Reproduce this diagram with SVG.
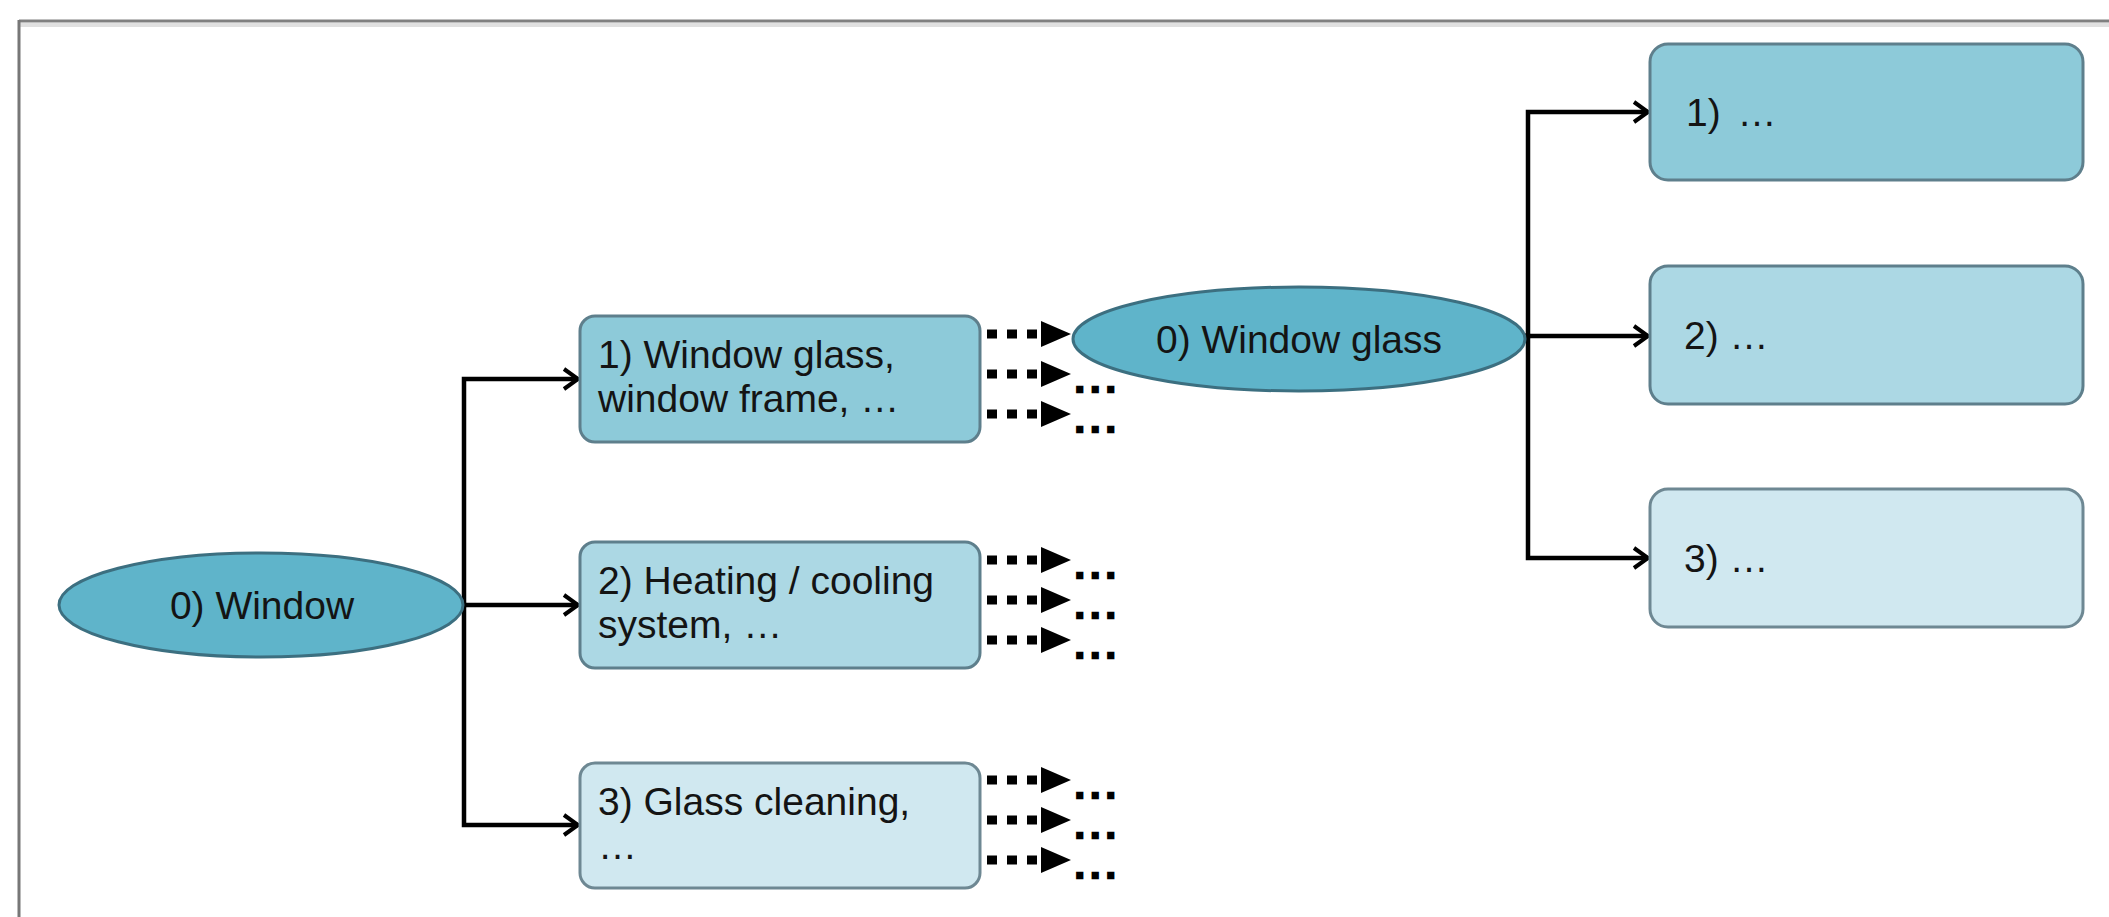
<svg xmlns="http://www.w3.org/2000/svg" width="2109" height="917" viewBox="0 0 2109 917">
<style>
.t{font-family:"Liberation Sans",Arial,sans-serif;font-size:39px;fill:#141414}
.c{text-anchor:middle}
.dl{font-family:"Liberation Sans",Arial,sans-serif;font-size:34px;font-weight:bold;letter-spacing:6px;fill:#000;stroke:#000;stroke-width:2.5px}
.ell{fill:#5fb4ca;stroke:#3c6f80;stroke-width:3}
.b1{fill:#8dcad9;stroke:#5e7f8c;stroke-width:3}
.b2{fill:#acd8e4;stroke:#5e7f8c;stroke-width:3}
.b3{fill:#d0e8f0;stroke:#6e8893;stroke-width:3}
.sol{fill:none;stroke:#000;stroke-width:4.5;marker-end:url(#open)}
.dot{fill:none;stroke:#000;stroke-width:9;stroke-dasharray:10 10;marker-end:url(#tri)}
</style>
<defs>
<marker id="open" markerUnits="userSpaceOnUse" markerWidth="24" markerHeight="28" refX="16" refY="12" orient="auto" overflow="visible">
<path d="M2,2 L16,12 L2,22" fill="none" stroke="#000" stroke-width="4"/>
</marker>
<marker id="tri" markerUnits="userSpaceOnUse" markerWidth="32" markerHeight="28" refX="0" refY="13" orient="auto" overflow="visible">
<path d="M0,0 L30,13 L0,26 Z" fill="#000"/>
</marker>
</defs>
<rect width="2109" height="917" fill="#fff"/>
<g id="frame">
<line x1="19" y1="25" x2="2109" y2="25" stroke="#e0e0e0" stroke-width="4"/>
<line x1="19" y1="21" x2="2109" y2="21" stroke="#808080" stroke-width="3"/>
<line x1="19" y1="20" x2="19" y2="917" stroke="#777" stroke-width="3"/>
</g>
<g id="connectors">
<path class="sol" d="M463,605 H464 V379 H578"/>
<path class="sol" d="M463,605 H578"/>
<path class="sol" d="M463,605 H464 V825 H578"/>
<path class="sol" d="M1525,336 H1528 V112 H1648"/>
<path class="sol" d="M1525,336 H1648"/>
<path class="sol" d="M1525,336 H1528 V558 H1648"/>
<path class="dot" d="M987,334 H1041"/>
<path class="dot" d="M987,374 H1041"/>
<path class="dot" d="M987,414 H1041"/>
<path class="dot" d="M987,560 H1041"/>
<path class="dot" d="M987,600 H1041"/>
<path class="dot" d="M987,640 H1041"/>
<path class="dot" d="M987,780 H1041"/>
<path class="dot" d="M987,820 H1041"/>
<path class="dot" d="M987,860 H1041"/>
<text class="dl" x="1075" y="392">...</text>
<text class="dl" x="1075" y="432">...</text>
<text class="dl" x="1075" y="578">...</text>
<text class="dl" x="1075" y="618">...</text>
<text class="dl" x="1075" y="658">...</text>
<text class="dl" x="1075" y="798">...</text>
<text class="dl" x="1075" y="838">...</text>
<text class="dl" x="1075" y="878">...</text>
</g>
<g id="n-window">
<ellipse class="ell" cx="261" cy="605" rx="202" ry="52"/>
<text class="t c" x="262" y="619">0) Window</text>
</g>
<g id="n-glass-frame">
<rect class="b1" x="580" y="316" width="400" height="126" rx="15"/>
<text class="t" x="598" y="368">1) Window glass,</text>
<text class="t" x="598" y="412">window frame, …</text>
</g>
<g id="n-heating">
<rect class="b2" x="580" y="542" width="400" height="126" rx="15"/>
<text class="t" x="598" y="594">2) Heating / cooling</text>
<text class="t" x="598" y="638">system, …</text>
</g>
<g id="n-cleaning">
<rect class="b3" x="580" y="763" width="400" height="125" rx="15"/>
<text class="t" x="598" y="815">3) Glass cleaning,</text>
<text class="t" x="598" y="859">…</text>
</g>
<g id="n-window-glass">
<ellipse class="ell" cx="1299" cy="339" rx="226" ry="52"/>
<text class="t c" x="1299" y="353">0) Window glass</text>
</g>
<g id="n-r1">
<rect class="b1" x="1650" y="44" width="433" height="136" rx="18"/>
<text class="t" x="1686" y="126">1)<tspan dx="6"> …</tspan></text>
</g>
<g id="n-r2">
<rect class="b2" x="1650" y="266" width="433" height="138" rx="18"/>
<text class="t" x="1684" y="349">2) …</text>
</g>
<g id="n-r3">
<rect class="b3" x="1650" y="489" width="433" height="138" rx="18"/>
<text class="t" x="1684" y="572">3) …</text>
</g>
</svg>
